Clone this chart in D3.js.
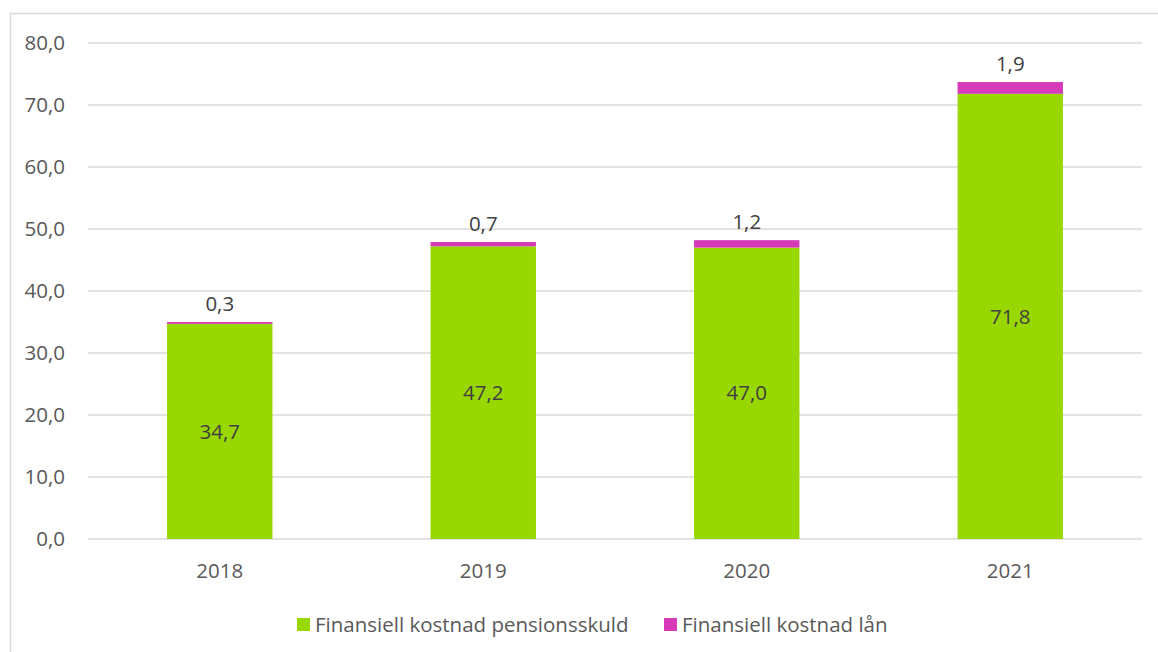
<!DOCTYPE html>
<html><head><meta charset="utf-8">
<script src="https://cdn.jsdelivr.net/npm/d3@7"></script>
<style>body{margin:0;background:#fff}svg{display:block}</style>
</head><body>
<script>
const categories = ["2018","2019","2020","2021"];
const pension = [34.7, 47.2, 47.0, 71.8];
const loan = [0.3, 0.7, 1.2, 1.9];
const yTicks = [0,10,20,30,40,50,60,70,80];
const seriesNames = ["Finansiell kostnad pensionsskuld","Finansiell kostnad lån"];
const colors = ["#99D700","#D63AB8"];

const W = 1158, H = 652;
const svg = d3.select("body").append("svg").attr("width",W).attr("height",H);
const font = "'Open Sans', sans-serif";
const fs = 20.5;
const fmt = v => v.toFixed(1).replace(".", ",");

svg.append("rect").attr("x",10.5).attr("y",13.5).attr("width",1160).attr("height",660)
  .attr("fill","#fff").attr("stroke","#D9D9D9").attr("stroke-width",1.5);

const x = d3.scaleBand().domain(categories).range([88,1142]).paddingInner(0.6).paddingOuter(0.3);
const y = d3.scaleLinear().domain([0,80]).range([539,43]);

const g = svg.append("g");
g.selectAll("line.grid").data(yTicks).join("line")
  .attr("x1",88).attr("x2",1142)
  .attr("y1",d=>y(d)).attr("y2",d=>y(d))
  .attr("stroke","#D9D9D9").attr("stroke-width",1.3);

g.selectAll("text.ytick").data(yTicks).join("text")
  .attr("x",65).attr("y",d=>y(d)).attr("dy","0.35em")
  .attr("text-anchor","end").attr("font-family",font).attr("font-size",fs)
  .attr("fill","#595959").text(d=>fmt(d));

g.selectAll("text.xtick").data(categories).join("text")
  .attr("x",d=>x(d)+x.bandwidth()/2).attr("y",578)
  .attr("text-anchor","middle").attr("font-family",font).attr("font-size",fs)
  .attr("fill","#595959").text(d=>d);

const data = categories.map((c,i)=>({c, p:pension[i], l:loan[i]}));
g.selectAll("rect.p").data(data).join("rect")
  .attr("x",d=>x(d.c)).attr("width",x.bandwidth())
  .attr("y",d=>y(d.p)).attr("height",d=>y(0)-y(d.p)).attr("fill",colors[0]);
g.selectAll("rect.l").data(data).join("rect")
  .attr("x",d=>x(d.c)).attr("width",x.bandwidth())
  .attr("y",d=>y(d.p+d.l)).attr("height",d=>y(d.p)-y(d.p+d.l)).attr("fill",colors[1]);

g.selectAll("text.pl").data(data).join("text")
  .attr("x",d=>x(d.c)+x.bandwidth()/2).attr("y",d=>(y(0)+y(d.p))/2).attr("dy","0.35em")
  .attr("text-anchor","middle").attr("font-family",font).attr("font-size",fs)
  .attr("fill","#404040").text(d=>fmt(d.p));
g.selectAll("text.ll").data(data).join("text")
  .attr("x",d=>x(d.c)+x.bandwidth()/2).attr("y",d=>y(d.p+d.l)-11)
  .attr("text-anchor","middle").attr("font-family",font).attr("font-size",fs)
  .attr("fill","#404040").text(d=>fmt(d.l));

// legend
const leg = svg.append("g");
const legX = [297, 664];
seriesNames.forEach((n,i)=>{
  leg.append("rect").attr("x",legX[i]).attr("y",618).attr("width",13).attr("height",13).attr("fill",colors[i]);
  leg.append("text").attr("x",legX[i]+18).attr("y",625).attr("dy","0.35em")
    .attr("font-family",font).attr("font-size",fs).attr("fill","#595959").text(n);
});
</script>
</body></html>
